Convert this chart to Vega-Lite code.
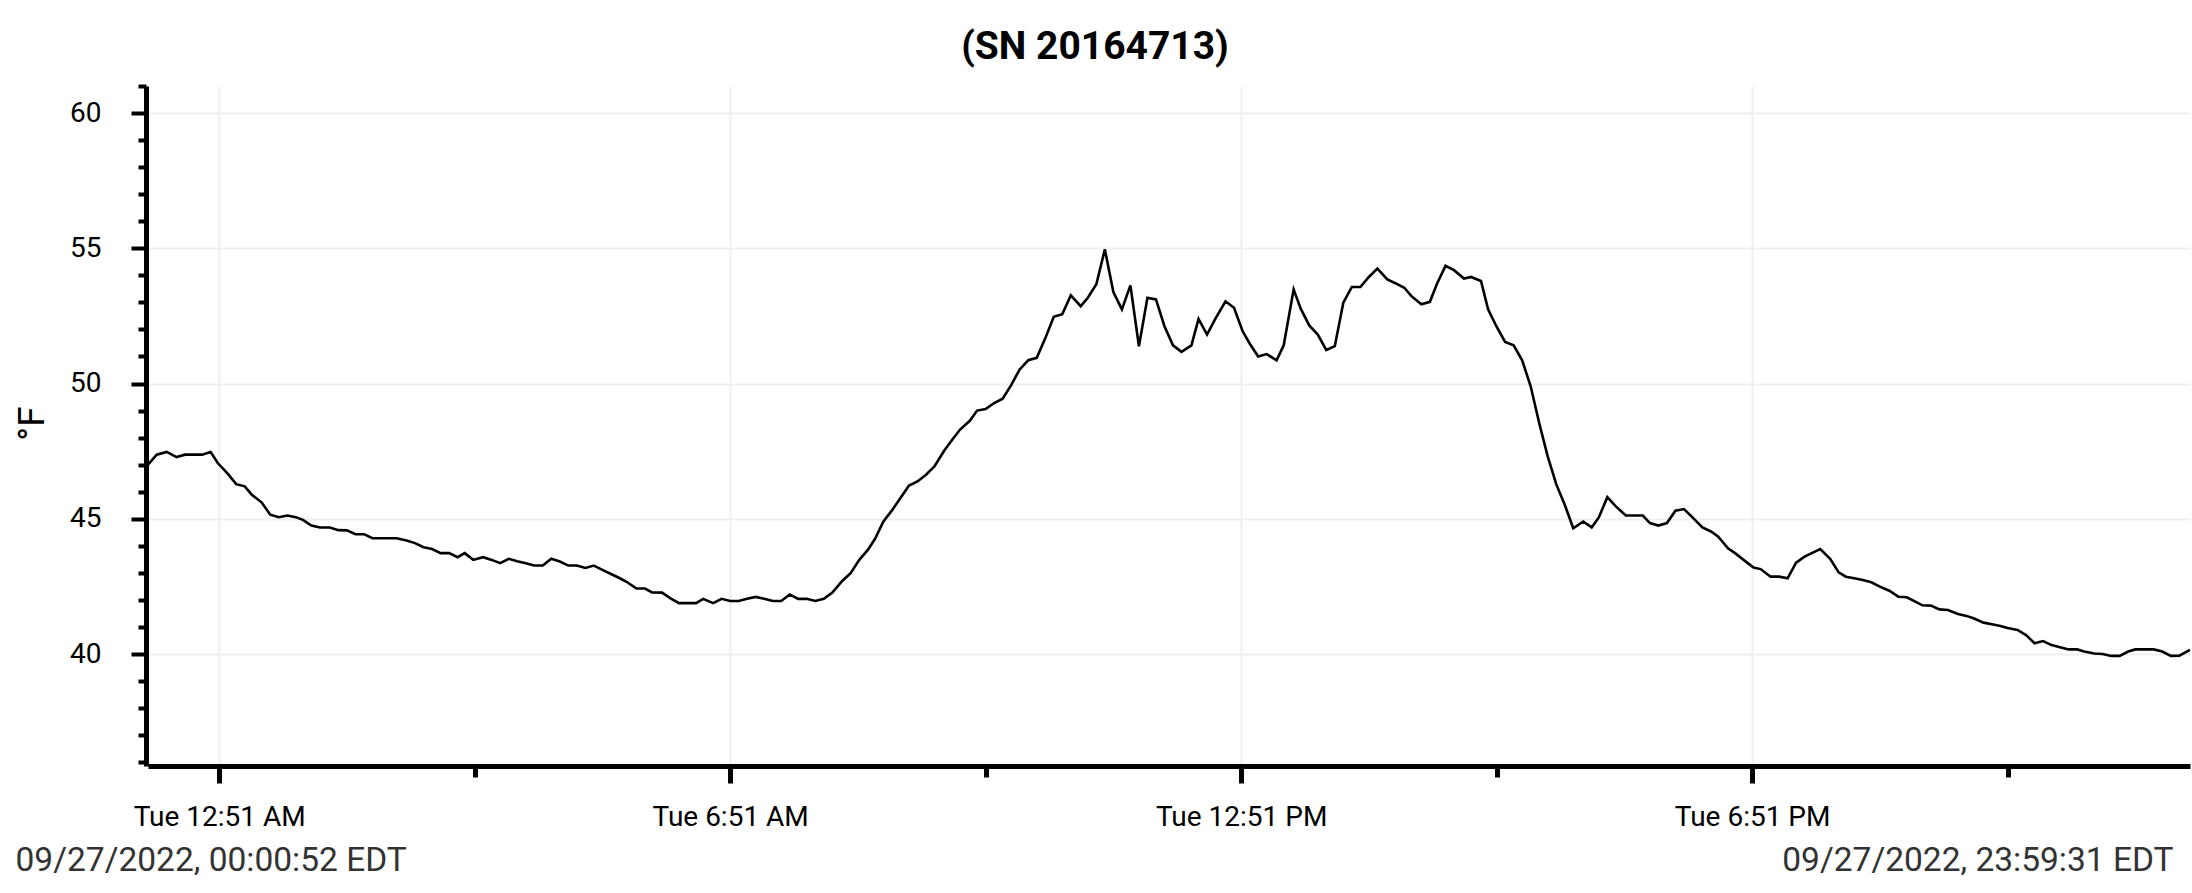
{
  "$schema": "https://vega.github.io/schema/vega-lite/v6.json",
  "autosize": "none",
  "width": 2042,
  "height": 680,
  "padding": {"left": 148, "top": 86, "right": 2, "bottom": 127},
  "background": "white",
  "config": {"font": "Roboto", "view": {"stroke": null}},
  "title": {
    "text": "(SN 20164713)",
    "font": "Roboto",
    "fontSize": 39,
    "fontWeight": "bold",
    "color": "#000000",
    "anchor": "middle",
    "dx": -74,
    "dy": 44,
    "baseline": "alphabetic",
    "offset": 18
  },
  "data": {
    "values": [
      {"t": "2022-09-27T00:00:52", "f": 47.0},
      {"t": "2022-09-27T00:07:00", "f": 47.37},
      {"t": "2022-09-27T00:14:00", "f": 47.47},
      {"t": "2022-09-27T00:21:00", "f": 47.28},
      {"t": "2022-09-27T00:27:00", "f": 47.37},
      {"t": "2022-09-27T00:33:00", "f": 47.37},
      {"t": "2022-09-27T00:39:00", "f": 47.37},
      {"t": "2022-09-27T00:45:00", "f": 47.47},
      {"t": "2022-09-27T00:50:00", "f": 47.06},
      {"t": "2022-09-27T00:57:00", "f": 46.67},
      {"t": "2022-09-27T01:03:00", "f": 46.28},
      {"t": "2022-09-27T01:09:00", "f": 46.2},
      {"t": "2022-09-27T01:14:00", "f": 45.89},
      {"t": "2022-09-27T01:21:00", "f": 45.6},
      {"t": "2022-09-27T01:27:00", "f": 45.15},
      {"t": "2022-09-27T01:33:00", "f": 45.06},
      {"t": "2022-09-27T01:39:00", "f": 45.12},
      {"t": "2022-09-27T01:45:00", "f": 45.06},
      {"t": "2022-09-27T01:50:00", "f": 44.96},
      {"t": "2022-09-27T01:56:00", "f": 44.75},
      {"t": "2022-09-27T02:02:00", "f": 44.68},
      {"t": "2022-09-27T02:09:00", "f": 44.68},
      {"t": "2022-09-27T02:15:00", "f": 44.58},
      {"t": "2022-09-27T02:21:00", "f": 44.57},
      {"t": "2022-09-27T02:27:00", "f": 44.43},
      {"t": "2022-09-27T02:33:00", "f": 44.43},
      {"t": "2022-09-27T02:39:00", "f": 44.28},
      {"t": "2022-09-27T02:45:00", "f": 44.28},
      {"t": "2022-09-27T02:51:00", "f": 44.28},
      {"t": "2022-09-27T02:56:00", "f": 44.28},
      {"t": "2022-09-27T03:03:00", "f": 44.2},
      {"t": "2022-09-27T03:09:00", "f": 44.1},
      {"t": "2022-09-27T03:15:00", "f": 43.95},
      {"t": "2022-09-27T03:21:00", "f": 43.88},
      {"t": "2022-09-27T03:27:00", "f": 43.73},
      {"t": "2022-09-27T03:33:00", "f": 43.73},
      {"t": "2022-09-27T03:39:00", "f": 43.58},
      {"t": "2022-09-27T03:44:00", "f": 43.73},
      {"t": "2022-09-27T03:50:00", "f": 43.48},
      {"t": "2022-09-27T03:57:00", "f": 43.58},
      {"t": "2022-09-27T04:03:00", "f": 43.48},
      {"t": "2022-09-27T04:09:00", "f": 43.36},
      {"t": "2022-09-27T04:15:00", "f": 43.52},
      {"t": "2022-09-27T04:21:00", "f": 43.43},
      {"t": "2022-09-27T04:27:00", "f": 43.36},
      {"t": "2022-09-27T04:33:00", "f": 43.27},
      {"t": "2022-09-27T04:39:00", "f": 43.27},
      {"t": "2022-09-27T04:45:00", "f": 43.52},
      {"t": "2022-09-27T04:51:00", "f": 43.42},
      {"t": "2022-09-27T04:57:00", "f": 43.27},
      {"t": "2022-09-27T05:03:00", "f": 43.27},
      {"t": "2022-09-27T05:09:00", "f": 43.18},
      {"t": "2022-09-27T05:15:00", "f": 43.27},
      {"t": "2022-09-27T05:21:00", "f": 43.11},
      {"t": "2022-09-27T05:27:00", "f": 42.96},
      {"t": "2022-09-27T05:33:00", "f": 42.81},
      {"t": "2022-09-27T05:38:00", "f": 42.67},
      {"t": "2022-09-27T05:45:00", "f": 42.42},
      {"t": "2022-09-27T05:51:00", "f": 42.42},
      {"t": "2022-09-27T05:56:00", "f": 42.28},
      {"t": "2022-09-27T06:03:00", "f": 42.27},
      {"t": "2022-09-27T06:09:00", "f": 42.06},
      {"t": "2022-09-27T06:15:00", "f": 41.88},
      {"t": "2022-09-27T06:21:00", "f": 41.88},
      {"t": "2022-09-27T06:27:00", "f": 41.88},
      {"t": "2022-09-27T06:32:00", "f": 42.04},
      {"t": "2022-09-27T06:39:00", "f": 41.88},
      {"t": "2022-09-27T06:45:00", "f": 42.04},
      {"t": "2022-09-27T06:51:00", "f": 41.96},
      {"t": "2022-09-27T06:57:00", "f": 41.96},
      {"t": "2022-09-27T07:03:00", "f": 42.04},
      {"t": "2022-09-27T07:09:00", "f": 42.11},
      {"t": "2022-09-27T07:15:00", "f": 42.04},
      {"t": "2022-09-27T07:21:00", "f": 41.96},
      {"t": "2022-09-27T07:27:00", "f": 41.96},
      {"t": "2022-09-27T07:33:00", "f": 42.2},
      {"t": "2022-09-27T07:39:00", "f": 42.04},
      {"t": "2022-09-27T07:45:00", "f": 42.04},
      {"t": "2022-09-27T07:51:00", "f": 41.96},
      {"t": "2022-09-27T07:57:00", "f": 42.04},
      {"t": "2022-09-27T08:03:00", "f": 42.27},
      {"t": "2022-09-27T08:10:00", "f": 42.7},
      {"t": "2022-09-27T08:16:00", "f": 43.0},
      {"t": "2022-09-27T08:22:00", "f": 43.48},
      {"t": "2022-09-27T08:28:00", "f": 43.85},
      {"t": "2022-09-27T08:33:00", "f": 44.25},
      {"t": "2022-09-27T08:39:00", "f": 44.9},
      {"t": "2022-09-27T08:45:00", "f": 45.31},
      {"t": "2022-09-27T08:51:00", "f": 45.77},
      {"t": "2022-09-27T08:57:00", "f": 46.23},
      {"t": "2022-09-27T09:03:00", "f": 46.38},
      {"t": "2022-09-27T09:09:00", "f": 46.63},
      {"t": "2022-09-27T09:15:00", "f": 46.94},
      {"t": "2022-09-27T09:22:00", "f": 47.53},
      {"t": "2022-09-27T09:28:00", "f": 47.96},
      {"t": "2022-09-27T09:33:00", "f": 48.3},
      {"t": "2022-09-27T09:40:00", "f": 48.63},
      {"t": "2022-09-27T09:45:00", "f": 49.0},
      {"t": "2022-09-27T09:51:00", "f": 49.06},
      {"t": "2022-09-27T09:57:00", "f": 49.28},
      {"t": "2022-09-27T10:03:00", "f": 49.44},
      {"t": "2022-09-27T10:09:00", "f": 49.94},
      {"t": "2022-09-27T10:15:00", "f": 50.52},
      {"t": "2022-09-27T10:21:00", "f": 50.86},
      {"t": "2022-09-27T10:27:00", "f": 50.95},
      {"t": "2022-09-27T10:33:00", "f": 51.67},
      {"t": "2022-09-27T10:39:00", "f": 52.47},
      {"t": "2022-09-27T10:45:00", "f": 52.56},
      {"t": "2022-09-27T10:51:00", "f": 53.26},
      {"t": "2022-09-27T10:58:00", "f": 52.86},
      {"t": "2022-09-27T11:03:00", "f": 53.17},
      {"t": "2022-09-27T11:09:00", "f": 53.67},
      {"t": "2022-09-27T11:15:00", "f": 54.96},
      {"t": "2022-09-27T11:21:00", "f": 53.38},
      {"t": "2022-09-27T11:27:00", "f": 52.74},
      {"t": "2022-09-27T11:33:00", "f": 53.63},
      {"t": "2022-09-27T11:39:00", "f": 51.38},
      {"t": "2022-09-27T11:45:00", "f": 53.17},
      {"t": "2022-09-27T11:51:00", "f": 53.11},
      {"t": "2022-09-27T11:57:00", "f": 52.12},
      {"t": "2022-09-27T12:03:00", "f": 51.41},
      {"t": "2022-09-27T12:09:00", "f": 51.17},
      {"t": "2022-09-27T12:16:00", "f": 51.41},
      {"t": "2022-09-27T12:21:00", "f": 52.39},
      {"t": "2022-09-27T12:27:00", "f": 51.81},
      {"t": "2022-09-27T12:33:00", "f": 52.41},
      {"t": "2022-09-27T12:40:00", "f": 53.04},
      {"t": "2022-09-27T12:46:00", "f": 52.8},
      {"t": "2022-09-27T12:52:00", "f": 51.94},
      {"t": "2022-09-27T12:57:00", "f": 51.48},
      {"t": "2022-09-27T13:03:00", "f": 51.0},
      {"t": "2022-09-27T13:09:00", "f": 51.09},
      {"t": "2022-09-27T13:16:00", "f": 50.86},
      {"t": "2022-09-27T13:21:00", "f": 51.41},
      {"t": "2022-09-27T13:28:00", "f": 53.48},
      {"t": "2022-09-27T13:33:00", "f": 52.77},
      {"t": "2022-09-27T13:39:00", "f": 52.15},
      {"t": "2022-09-27T13:45:00", "f": 51.81},
      {"t": "2022-09-27T13:51:00", "f": 51.24},
      {"t": "2022-09-27T13:57:00", "f": 51.38},
      {"t": "2022-09-27T14:03:00", "f": 52.99},
      {"t": "2022-09-27T14:09:00", "f": 53.57},
      {"t": "2022-09-27T14:15:00", "f": 53.57},
      {"t": "2022-09-27T14:21:00", "f": 53.94},
      {"t": "2022-09-27T14:27:00", "f": 54.25},
      {"t": "2022-09-27T14:34:00", "f": 53.85},
      {"t": "2022-09-27T14:40:00", "f": 53.7},
      {"t": "2022-09-27T14:46:00", "f": 53.54},
      {"t": "2022-09-27T14:51:00", "f": 53.23},
      {"t": "2022-09-27T14:58:00", "f": 52.93},
      {"t": "2022-09-27T15:04:00", "f": 53.02},
      {"t": "2022-09-27T15:09:00", "f": 53.69},
      {"t": "2022-09-27T15:15:00", "f": 54.35},
      {"t": "2022-09-27T15:21:00", "f": 54.19},
      {"t": "2022-09-27T15:28:00", "f": 53.88},
      {"t": "2022-09-27T15:33:00", "f": 53.94},
      {"t": "2022-09-27T15:40:00", "f": 53.79},
      {"t": "2022-09-27T15:45:00", "f": 52.74},
      {"t": "2022-09-27T15:51:00", "f": 52.1},
      {"t": "2022-09-27T15:57:00", "f": 51.54},
      {"t": "2022-09-27T16:03:00", "f": 51.41},
      {"t": "2022-09-27T16:09:00", "f": 50.86},
      {"t": "2022-09-27T16:15:00", "f": 49.9},
      {"t": "2022-09-27T16:21:00", "f": 48.54},
      {"t": "2022-09-27T16:27:00", "f": 47.31},
      {"t": "2022-09-27T16:33:00", "f": 46.28},
      {"t": "2022-09-27T16:39:00", "f": 45.52},
      {"t": "2022-09-27T16:45:00", "f": 44.65},
      {"t": "2022-09-27T16:52:00", "f": 44.9},
      {"t": "2022-09-27T16:58:00", "f": 44.68},
      {"t": "2022-09-27T17:03:00", "f": 45.05},
      {"t": "2022-09-27T17:09:00", "f": 45.8},
      {"t": "2022-09-27T17:15:00", "f": 45.46},
      {"t": "2022-09-27T17:22:00", "f": 45.12},
      {"t": "2022-09-27T17:28:00", "f": 45.12},
      {"t": "2022-09-27T17:34:00", "f": 45.12},
      {"t": "2022-09-27T17:39:00", "f": 44.84},
      {"t": "2022-09-27T17:45:00", "f": 44.75},
      {"t": "2022-09-27T17:51:00", "f": 44.84},
      {"t": "2022-09-27T17:57:00", "f": 45.3},
      {"t": "2022-09-27T18:03:00", "f": 45.36},
      {"t": "2022-09-27T18:09:00", "f": 45.05},
      {"t": "2022-09-27T18:16:00", "f": 44.68},
      {"t": "2022-09-27T18:22:00", "f": 44.53},
      {"t": "2022-09-27T18:27:00", "f": 44.35},
      {"t": "2022-09-27T18:34:00", "f": 43.91},
      {"t": "2022-09-27T18:39:00", "f": 43.73},
      {"t": "2022-09-27T18:45:00", "f": 43.48},
      {"t": "2022-09-27T18:52:00", "f": 43.2},
      {"t": "2022-09-27T18:57:00", "f": 43.14},
      {"t": "2022-09-27T19:04:00", "f": 42.86},
      {"t": "2022-09-27T19:10:00", "f": 42.86},
      {"t": "2022-09-27T19:16:00", "f": 42.8},
      {"t": "2022-09-27T19:22:00", "f": 43.38},
      {"t": "2022-09-27T19:28:00", "f": 43.6},
      {"t": "2022-09-27T19:33:00", "f": 43.73},
      {"t": "2022-09-27T19:39:00", "f": 43.88},
      {"t": "2022-09-27T19:46:00", "f": 43.52},
      {"t": "2022-09-27T19:52:00", "f": 43.02},
      {"t": "2022-09-27T19:57:00", "f": 42.86},
      {"t": "2022-09-27T20:03:00", "f": 42.8},
      {"t": "2022-09-27T20:09:00", "f": 42.74},
      {"t": "2022-09-27T20:15:00", "f": 42.65},
      {"t": "2022-09-27T20:21:00", "f": 42.49},
      {"t": "2022-09-27T20:28:00", "f": 42.33},
      {"t": "2022-09-27T20:34:00", "f": 42.12},
      {"t": "2022-09-27T20:40:00", "f": 42.1},
      {"t": "2022-09-27T20:46:00", "f": 41.94},
      {"t": "2022-09-27T20:51:00", "f": 41.8},
      {"t": "2022-09-27T20:57:00", "f": 41.79},
      {"t": "2022-09-27T21:03:00", "f": 41.65},
      {"t": "2022-09-27T21:09:00", "f": 41.63},
      {"t": "2022-09-27T21:16:00", "f": 41.48},
      {"t": "2022-09-27T21:22:00", "f": 41.41},
      {"t": "2022-09-27T21:27:00", "f": 41.32},
      {"t": "2022-09-27T21:34:00", "f": 41.16},
      {"t": "2022-09-27T21:40:00", "f": 41.1},
      {"t": "2022-09-27T21:46:00", "f": 41.04},
      {"t": "2022-09-27T21:51:00", "f": 40.96},
      {"t": "2022-09-27T21:58:00", "f": 40.89},
      {"t": "2022-09-27T22:04:00", "f": 40.7},
      {"t": "2022-09-27T22:10:00", "f": 40.4},
      {"t": "2022-09-27T22:16:00", "f": 40.48},
      {"t": "2022-09-27T22:22:00", "f": 40.33},
      {"t": "2022-09-27T22:28:00", "f": 40.25},
      {"t": "2022-09-27T22:34:00", "f": 40.17},
      {"t": "2022-09-27T22:40:00", "f": 40.17},
      {"t": "2022-09-27T22:45:00", "f": 40.09},
      {"t": "2022-09-27T22:52:00", "f": 40.02},
      {"t": "2022-09-27T22:58:00", "f": 40.0},
      {"t": "2022-09-27T23:04:00", "f": 39.93},
      {"t": "2022-09-27T23:10:00", "f": 39.93},
      {"t": "2022-09-27T23:16:00", "f": 40.09},
      {"t": "2022-09-27T23:21:00", "f": 40.17},
      {"t": "2022-09-27T23:28:00", "f": 40.17},
      {"t": "2022-09-27T23:34:00", "f": 40.17},
      {"t": "2022-09-27T23:40:00", "f": 40.09},
      {"t": "2022-09-27T23:46:00", "f": 39.93},
      {"t": "2022-09-27T23:52:00", "f": 39.94},
      {"t": "2022-09-27T23:59:31", "f": 40.15}
    ]
  },
  "layer": [
    {
      "mark": {"type": "line", "color": "#000000", "strokeWidth": 2.6},
      "encoding": {
        "x": {
          "field": "t",
          "type": "temporal",
          "scale": {
            "domain": [
              {"year": 2022, "month": 9, "date": 27, "hours": 0, "minutes": 0, "seconds": 52},
              {"year": 2022, "month": 9, "date": 27, "hours": 23, "minutes": 59, "seconds": 31}
            ],
            "nice": false
          },
          "axis": {
            "values": [
              {"year": 2022, "month": 9, "date": 27, "hours": 0, "minutes": 51},
              {"year": 2022, "month": 9, "date": 27, "hours": 3, "minutes": 51},
              {"year": 2022, "month": 9, "date": 27, "hours": 6, "minutes": 51},
              {"year": 2022, "month": 9, "date": 27, "hours": 9, "minutes": 51},
              {"year": 2022, "month": 9, "date": 27, "hours": 12, "minutes": 51},
              {"year": 2022, "month": 9, "date": 27, "hours": 15, "minutes": 51},
              {"year": 2022, "month": 9, "date": 27, "hours": 18, "minutes": 51},
              {"year": 2022, "month": 9, "date": 27, "hours": 21, "minutes": 51}
            ],
            "format": "%a %-I:%M %p",
            "labelExpr": "hours(datum.value) % 6 === 0 ? datum.label : ''",
            "labelFont": "Roboto",
            "labelFontSize": 28,
            "labelColor": "#000000",
            "labelBaseline": "alphabetic",
            "labelPadding": 42,
            "labelFlush": false,
            "labelOverlap": false,
            "tickSize": {"condition": {"test": "hours(datum.value) % 6 === 0", "value": 17}, "value": 11},
            "tickWidth": 5,
            "tickColor": "#000000",
            "domainColor": "#000000",
            "domainWidth": 5,
            "grid": true,
            "gridWidth": 2,
            "gridColor": {"condition": {"test": "hours(datum.value) % 6 === 0", "value": "#efefef"}, "value": "rgba(0,0,0,0)"},
            "title": "09/27/2022, 00:00:52 EDT",
            "titleFont": "Roboto",
            "titleFontSize": 33.5,
            "titleFontWeight": "normal",
            "titleColor": "#333333",
            "titleAlign": "left",
            "titleBaseline": "alphabetic",
            "titleX": -133,
            "titleY": 104
          }
        },
        "y": {
          "field": "f",
          "type": "quantitative",
          "scale": {"domain": [35.86, 61], "nice": false, "zero": false},
          "axis": {
            "values": [36, 37, 38, 39, 40, 41, 42, 43, 44, 45, 46, 47, 48, 49, 50, 51, 52, 53, 54, 55, 56, 57, 58, 59, 60, 61],
            "labelExpr": "datum.value % 5 === 0 ? datum.label : ''",
            "labelFont": "Roboto",
            "labelFontSize": 28,
            "labelColor": "#000000",
            "labelPadding": 30,
            "labelOverlap": false,
            "labelFlush": false,
            "offset": 2,
            "tickSize": {"condition": {"test": "datum.value % 5 === 0", "value": 15}, "value": 8},
            "tickWidth": 4,
            "tickColor": "#000000",
            "domainColor": "#000000",
            "domainWidth": 5,
            "grid": true,
            "gridWidth": 2,
            "gridColor": {"condition": {"test": "datum.value % 5 === 0", "value": "#efefef"}, "value": "rgba(0,0,0,0)"},
            "title": "°F",
            "titleFont": "Roboto",
            "titleFontSize": 37,
            "titleFontWeight": "normal",
            "titleColor": "#000000",
            "titleAngle": -90,
            "titleAlign": "center",
            "titleBaseline": "alphabetic",
            "titleX": -103,
            "titleY": 337
          }
        }
      }
    },
    {
      "mark": {"type": "line", "strokeOpacity": 0},
      "encoding": {
        "x": {
          "field": "t",
          "type": "temporal",
          "axis": {
            "orient": "bottom",
            "domain": false,
            "ticks": false,
            "labels": false,
            "grid": false,
            "title": "09/27/2022, 23:59:31 EDT",
            "titleFont": "Roboto",
            "titleFontSize": 33.5,
            "titleFontWeight": "normal",
            "titleColor": "#333333",
            "titleAlign": "right",
            "titleBaseline": "alphabetic",
            "titleX": 2025,
            "titleY": 104
          }
        },
        "y": {"field": "f", "type": "quantitative", "axis": null}
      }
    }
  ],
  "resolve": {"axis": {"x": "independent", "y": "independent"}}
}
